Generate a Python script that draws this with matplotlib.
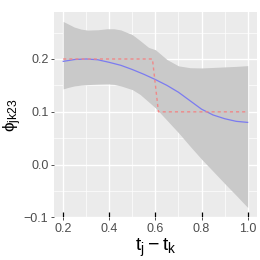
import matplotlib
matplotlib.use('Agg')
import matplotlib.pyplot as plt

# fitted curve (blue) and its band
fit_x = [0.2, 0.25, 0.3, 0.35, 0.4, 0.45, 0.5, 0.55, 0.6, 0.65, 0.7, 0.75, 0.8, 0.85, 0.9, 0.95, 1.0]
fit_y = [0.1955, 0.199, 0.200, 0.1985, 0.1936, 0.188, 0.180, 0.171, 0.161, 0.150,
         0.137, 0.121, 0.105, 0.094, 0.087, 0.082, 0.080]

band_x = [0.2, 0.22, 0.248, 0.277, 0.305, 0.35, 0.39, 0.42, 0.45, 0.5, 0.533, 0.57,
          0.6, 0.65, 0.7, 0.75, 0.8, 0.85, 0.9, 0.95, 1.0]
band_hi = [0.271, 0.2666, 0.2604, 0.2566, 0.2547, 0.2553, 0.2572, 0.2572, 0.255, 0.246,
           0.235, 0.222, 0.2175, 0.199, 0.187, 0.1835, 0.183, 0.184, 0.185, 0.186, 0.1874]
band_lo = [0.1434, 0.146, 0.149, 0.1505, 0.1515, 0.1525, 0.153, 0.152, 0.149, 0.142,
           0.133, 0.119, 0.1075, 0.084, 0.0604, 0.035, 0.0104, -0.0125, -0.0355, -0.058, -0.081]

# true step (red dashed)
true_x = [0.2, 0.587, 0.613, 1.0]
true_y = [0.2, 0.2, 0.1, 0.1]

# observation positions (rug)
rug_x = [0.2, 0.4, 0.6, 0.8, 1.0]

x_ticks = [0.2, 0.4, 0.6, 0.8, 1.0]
y_ticks = [-0.1, 0.0, 0.1, 0.2]

plt.rcParams['font.family'] = ['Liberation Sans', 'DejaVu Sans']
plt.rcParams['mathtext.fontset'] = 'custom'
plt.rcParams['mathtext.rm'] = 'Liberation Sans'
plt.rcParams['mathtext.it'] = 'Liberation Sans'

fig = plt.figure(figsize=(2.6, 2.6), dpi=100)
ax = fig.add_axes([0.2077, 0.1635, 0.7803, 0.7905])
ax.set_facecolor('#EBEBEB')

ax.fill_between(band_x, band_lo, band_hi, color='#C9C9C9', lw=0, zorder=2)
ax.plot(fit_x, fit_y, color='#7B7BF0', lw=0.9, zorder=3)
ax.plot(true_x, true_y, color='#F08888', lw=1.0, ls=(0, (2.2, 2.2)), zorder=4)
ax.vlines(rug_x, 0, 0.025, transform=ax.get_xaxis_transform(), color='black', lw=0.9, zorder=5)

ax.set_xlim(0.16, 1.04)
ax.set_ylim(-0.1, 0.289)
ax.set_xticks(x_ticks)
ax.set_xticklabels(['0.2', '0.4', '0.6', '0.8', '1.0'])
ax.set_yticks(y_ticks)
ax.set_yticklabels(['\u22120.1', '0.0', '0.1', '0.2'])
ax.set_xticks([0.3, 0.5, 0.7, 0.9], minor=True)
ax.set_yticks([-0.05, 0.05, 0.15, 0.25], minor=True)

ax.grid(which='major', color='white', lw=1.0, zorder=1)
ax.grid(which='minor', color='white', lw=0.5, zorder=1)
ax.set_axisbelow(True)
for s in ax.spines.values():
    s.set_visible(False)

ax.tick_params(which='major', length=2.5, width=0.6, color='#333333',
               labelcolor='#4D4D4D', labelsize=9, pad=1.5)
ax.tick_params(which='minor', length=0)

ax.set_xlabel(r'$\mathrm{t_j - t_k}$', fontsize=14, labelpad=1)
ax.set_ylabel(r'$\mathrm{\phi_{jk23}}$', fontsize=12.5)
ax.yaxis.set_label_coords(-0.15, 0.5)

fig.savefig('out.png', dpi=100)
